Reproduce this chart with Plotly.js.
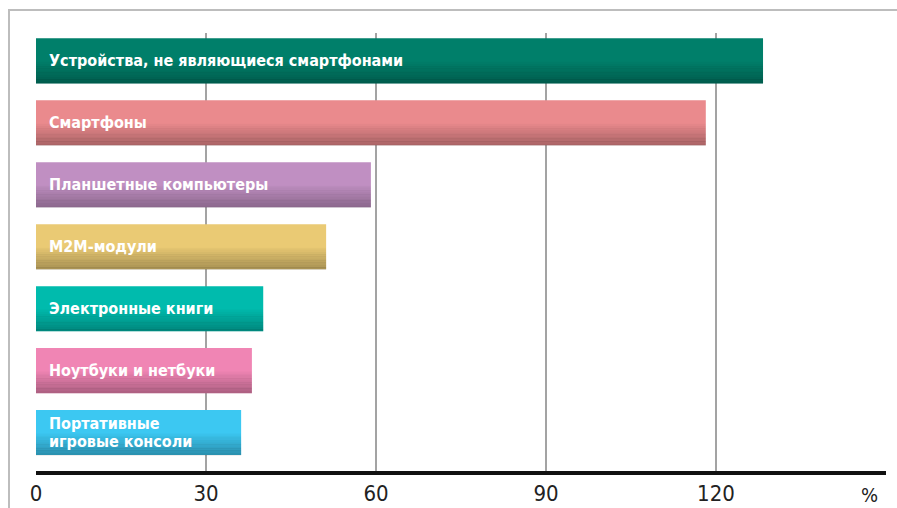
<!DOCTYPE html>
<html><head><meta charset="utf-8">
<script src="https://cdn.plot.ly/plotly-3.0.1.min.js"></script>
<style>
body{margin:0;background:#fff}
#wrap{position:relative;width:897px;height:508px;overflow:hidden}
#frame{position:absolute;left:8px;top:9px;right:-2px;bottom:-2px;border-top:2px solid #BDBDBD;border-left:2px solid #BDBDBD;pointer-events:none}
</style>
</head><body>
<div id="wrap"><div id="chart" style="width:897px;height:508px"></div><div id="frame"></div></div>
<script>
const categories = [
  'Устройства, не являющиеся смартфонами',
  'Смартфоны',
  'Планшетные компьютеры',
  'M2M-модули',
  'Электронные книги',
  'Ноутбуки и нетбуки',
  'Портативные игровые консоли'
];
const barLabels = [
  'Устройства, не являющиеся смартфонами',
  'Смартфоны',
  'Планшетные компьютеры',
  'M2M-модули',
  'Электронные книги',
  'Ноутбуки и нетбуки',
  'Портативные<br>игровые консоли'
];
const values = [128.3, 118.2, 59.1, 51.2, 40.1, 38.1, 36.2];
const colors = ['#007F6A', '#EA8A8D', '#C08FC2', '#EACA74', '#00BBAD', '#F085B4', '#3CC8F2'];
const tickVals = [0, 30, 60, 90, 120];
const tickText = ['0', '30', '60', '90', '120'];
const unitLabel = '%';

const BW = 0.727;
const traces = [{
  type: 'bar', orientation: 'h', x: values, y: categories,
  marker: {color: colors, line: {width: 0}},
  width: BW, hoverinfo: 'skip'
}];
// darker gradient at the bottom of each bar
const N = 10, gradFrac = 0.48, maxA = 0.27;
const stripH = BW * gradFrac / N;
for (let k = 0; k < N; k++) {
  const a = maxA * (k + 1) / N;
  traces.push({
    type: 'bar', orientation: 'h', x: values, y: categories,
    marker: {color: 'rgba(0,0,0,' + a.toFixed(3) + ')', line: {width: 0}},
    width: stripH + 0.002, offset: BW / 2 - gradFrac * BW + k * stripH,
    hoverinfo: 'skip'
  });
}

const lf = 'DejaVu Sans Condensed, Liberation Sans Narrow, sans-serif';
const tf = 'Liberation Sans Narrow, DejaVu Sans Condensed, sans-serif';
const annotations = [];
categories.forEach((c, i) => {
  const lines = barLabels[i].split('<br>');
  lines.forEach((ln, j) => {
    annotations.push({
      x: 0, y: c, xref: 'x', yref: 'y', text: '<b>' + ln + '</b>',
      showarrow: false, xanchor: 'left', yanchor: 'middle', xshift: 11,
      yshift: (lines.length - 1) * 9 - j * 18,
      font: {family: lf, size: 16, color: '#ffffff'}
    });
  });
});
annotations.push({
  x: 147, y: 0, xref: 'x', yref: 'paper', text: unitLabel, showarrow: false,
  xanchor: 'center', yanchor: 'top', yshift: -10,
  font: {family: tf, size: 20, color: '#222'}
});

const layout = {
  width: 897, height: 508,
  margin: {l: 36, r: 11, t: 33, b: 37},
  paper_bgcolor: 'rgba(0,0,0,0)', plot_bgcolor: 'rgba(0,0,0,0)',
  barmode: 'overlay', showlegend: false,
  xaxis: {
    range: [0, 150], tickvals: tickVals, ticktext: tickText,
    showgrid: true, gridcolor: '#A3A3A3', gridwidth: 2,
    showline: true, linecolor: '#111', linewidth: 4,
    zeroline: false, ticks: '',
    tickfont: {family: tf, size: 22, color: '#222'}
  },
  yaxis: {
    type: 'category', range: [6.62, -0.45], showticklabels: false,
    showgrid: false, zeroline: false, showline: false, ticks: ''
  },
  annotations: annotations
};
Plotly.newPlot('chart', traces, layout, {displayModeBar: false, staticPlot: true});
</script>
</body></html>
